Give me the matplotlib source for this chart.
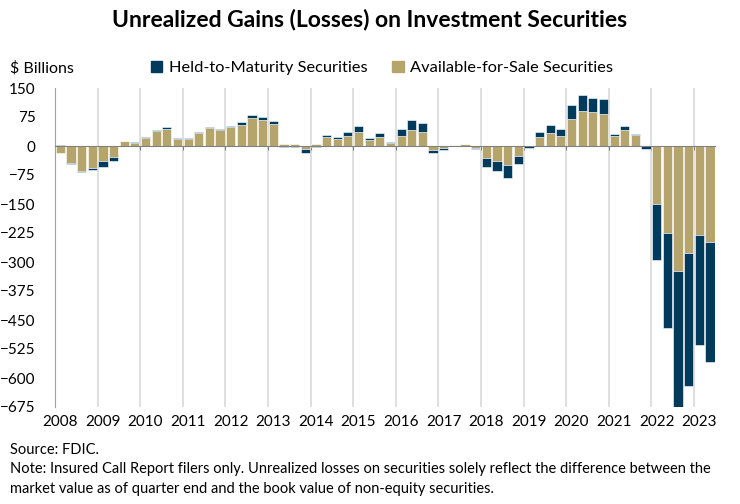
import numpy as np
import matplotlib.pyplot as plt

plt.rcParams['font.family'] = ['Lato', 'DejaVu Sans']

# quarterly, 2008Q1 .. 2023Q2, $ billions
years = list(range(2008, 2024))
afs = [-18, -44, -64, -56, -40, -29, 13, 8,
       20, 38, 44, 18, 17, 34, 46, 42,
       48, 55, 73, 66, 58, 4, 4, -7,
       4, 24, 18, 27, 37, 15, 22, 7,
       27, 42, 37, -11, -5, 2, 5, -4,
       -31, -39, -49, -26, -1, 22, 33, 27,
       71, 91, 88, 84, 27, 41, 28, -1,
       -150, -226, -322, -276, -231, -247]
htm = [2, -2, -2, -5, -14, -9, 1, 3,
       3, 3, 5, 3, 3, 3, 4, 3,
       5, 7, 8, 8, 7, -3, -3, -10,
       -2, 4, 4, 9, 14, 5, 12, 4,
       18, 25, 23, -8, -5, 1, 1, -4,
       -24, -26, -34, -20, -3, 15, 21, 16,
       36, 40, 37, 37, 3, 11, 2, -8,
       -144, -244, -368, -344, -284, -311]

NAVY = '#003b5c'
TAN = '#b5a56c'

afs = np.array(afs, dtype=float)
htm = np.array(htm, dtype=float)
x = np.arange(len(afs))
# HTM stacks on AFS when both have the same sign
htm_bottom = np.where(np.sign(htm) == np.sign(afs), afs, 0)

fig = plt.figure(figsize=(7.4, 5.04), dpi=100)
ax = fig.add_axes([55 / 740, 1 - 407 / 504, 660.3 / 740, 319 / 504])

ax.bar(x, afs, width=0.86, color=TAN, edgecolor='white', linewidth=0.4, zorder=3)
ax.bar(x, htm, bottom=htm_bottom, width=0.86, color=NAVY, edgecolor='white',
       linewidth=0.4, zorder=3)

ax.set_xlim(-0.5, len(afs) - 0.5)
ax.set_ylim(-675, 150)
ax.set_yticks(np.arange(-675, 151, 75))
ax.tick_params(axis='y', length=0, pad=14, labelsize=11)

# year boundaries: gridlines + small ticks on the zero line
bounds = np.arange(3.5, len(afs), 4)
ax.set_xticks(bounds)
ax.set_xticklabels([''] * len(bounds))
ax.grid(axis='x', color='#dcdcdc', linewidth=1.3, zorder=0)
ax.spines['bottom'].set_position(('data', 0))
ax.spines['bottom'].set_color('#808080')
ax.spines['bottom'].set_zorder(4)
ax.tick_params(axis='x', length=3, color='#808080', direction='out')
ax.spines['left'].set_color('#a0a0a0')
ax.spines['top'].set_visible(False)
ax.spines['right'].set_visible(False)

sec = ax.secondary_xaxis(0.0)
sec.set_xticks(np.arange(0, len(afs), 4))
sec.set_xticklabels([str(y) for y in years])
sec.tick_params(length=0, pad=6, labelsize=11)
sec.spines['bottom'].set_visible(False)

fig.text(0.5, 1 - 20 / 504, 'Unrealized Gains (Losses) on Investment Securities',
         ha='center', va='center', fontsize=16.5, fontweight='bold')
fig.text(10 / 740, 1 - 68 / 504, '$ Billions', ha='left', va='center', fontsize=11.5)

handles = [plt.Rectangle((0, 0), 1, 1, color=NAVY), plt.Rectangle((0, 0), 1, 1, color=TAN)]
fig.legend(handles, ['Held-to-Maturity Securities', 'Available-for-Sale Securities'],
           loc='center', bbox_to_anchor=(382 / 740, 1 - 68 / 504), ncol=2, frameon=False,
           fontsize=11.8, handlelength=0.7, handleheight=0.7, handletextpad=0.4,
           columnspacing=1.5)

fig.text(10 / 740, 1 - 450 / 504, 'Source: FDIC.', ha='left', va='center', fontsize=10.5)
fig.text(10 / 740, 1 - 479 / 504,
         'Note: Insured Call Report filers only. Unrealized losses on securities solely reflect the difference between the\n'
         'market value as of quarter end and the book value of non-equity securities.',
         ha='left', va='center', fontsize=10.5, linespacing=1.5)

fig.savefig('out.png', dpi=100)
